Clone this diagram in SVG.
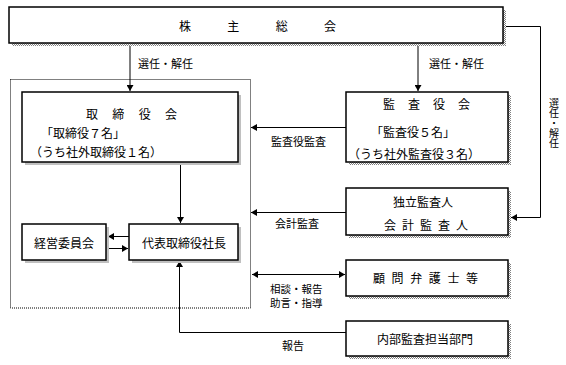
<svg xmlns="http://www.w3.org/2000/svg" width="566" height="365" viewBox="0 0 566 365">
<style>
text{font-family:"MS Gothic","Noto Sans CJK JP","Noto Sans CJK SC",sans-serif;font-size:12px;fill:#000;dominant-baseline:central}
.s{font-size:11px}
.t{font-size:10.5px}
.v{font-size:10px;text-anchor:middle;writing-mode:vertical-rl}
.m{text-anchor:middle}
.box{fill:#fff;stroke:#000;stroke-width:1.5}
.sh1{fill:url(#dith)}
.sh2{fill:#c0c0c0}
.ln{fill:none;stroke:#000;stroke-width:1}
</style>
<defs>
<pattern id="dith" width="2" height="2" patternUnits="userSpaceOnUse">
<rect width="2" height="2" fill="#fff"/>
<rect width="1" height="1" fill="#808080"/>
<rect x="1" y="1" width="1" height="1" fill="#808080"/>
</pattern>
<marker id="ah" markerUnits="userSpaceOnUse" markerWidth="7" markerHeight="7" refX="6" refY="3.5" orient="auto-start-reverse">
<path d="M0,0 L6,3.5 L0,7 z" fill="#000"/>
</marker>
</defs>
<rect width="566" height="365" fill="#fff"/>

<rect id="board-area" x="10.5" y="79.5" width="240" height="228.5" fill="none" stroke="#000" stroke-width="1" stroke-dasharray="1,1"/>

<g id="connectors">
<path class="ln" d="M130,43 V91" marker-end="url(#ah)"/>
<path class="ln" d="M418,43 V91" marker-end="url(#ah)"/>
<path class="ln" d="M503,26.5 H540.5 V217.5 H511" marker-end="url(#ah)"/>
<path class="ln" d="M346,127.5 H251" marker-end="url(#ah)"/>
<path class="ln" d="M346,212.5 H251" marker-end="url(#ah)"/>
<path class="ln" d="M252,274.5 H345" marker-start="url(#ah)" marker-end="url(#ah)"/>
<path class="ln" d="M180.5,162 V223" marker-end="url(#ah)"/>
<path class="ln" d="M129,236.5 H108" marker-end="url(#ah)"/>
<path class="ln" d="M106,248.5 H128" marker-end="url(#ah)"/>
<path class="ln" d="M346,332.5 H179.5 V261" marker-end="url(#ah)"/>
<text class="s" x="138" y="63">選任・解任</text>
<text class="s" x="429" y="63">選任・解任</text>
<text class="v" x="554" y="123">選任・解任</text>
<text class="s" x="271" y="141">監査役監査</text>
<text class="s" x="275" y="223">会計監査</text>
<text class="t" x="270" y="288.5">相談・報告</text>
<text class="t" x="270" y="302.5">助言・指導</text>
<text class="s m" x="293" y="345">報告</text>
</g>

<g id="shareholders">
<rect class="sh1" x="12" y="10" width="494" height="36"/>
<rect class="box" x="9" y="7" width="494" height="36"/>
<text x="179" y="25" textLength="157" lengthAdjust="spacing">株 主 総 会</text>
</g>

<g id="board">
<rect class="sh2" x="25" y="95" width="216" height="70"/>
<rect class="box" x="22" y="92" width="216" height="70"/>
<text x="86" y="113" textLength="91" lengthAdjust="spacing">取 締 役 会</text>
<text class="m" x="83" y="132">「取締役７名」</text>
<text class="m" x="96" y="151">（うち社外取締役１名）</text>
</g>

<g id="auditors">
<rect class="sh1" x="349" y="95" width="162" height="70"/>
<rect class="box" x="346" y="92" width="162" height="70"/>
<text x="383" y="103" textLength="87" lengthAdjust="spacing">監 査 役 会</text>
<text class="m" x="413" y="131">「監査役５名」</text>
<text class="m" x="414" y="153">（うち社外監査役３名）</text>
</g>

<g id="accounting-auditor">
<rect class="sh1" x="349" y="191" width="162" height="47"/>
<rect class="box" x="346" y="188" width="162" height="47"/>
<text class="m" x="423" y="201">独立監査人</text>
<text x="384" y="224" textLength="84" lengthAdjust="spacing">会 計 監 査 人</text>
</g>

<g id="management-committee">
<rect class="sh2" x="25" y="227" width="84" height="36"/>
<rect class="box" x="22" y="224" width="84" height="36"/>
<text class="m" x="64" y="242">経営委員会</text>
</g>

<g id="president">
<rect class="sh2" x="132" y="227" width="109" height="36"/>
<rect class="box" x="129" y="224" width="109" height="36"/>
<text class="m" x="184" y="242">代表取締役社長</text>
</g>

<g id="advisors">
<rect class="sh1" x="349" y="263" width="162" height="36"/>
<rect class="box" x="346" y="260" width="162" height="36"/>
<text x="373" y="277" textLength="105" lengthAdjust="spacing">顧 問 弁 護 士 等</text>
</g>

<g id="internal-audit">
<rect class="sh1" x="349" y="324" width="162" height="35"/>
<rect class="box" x="346" y="321" width="162" height="35"/>
<text class="m" x="425" y="338">内部監査担当部門</text>
</g>
</svg>
